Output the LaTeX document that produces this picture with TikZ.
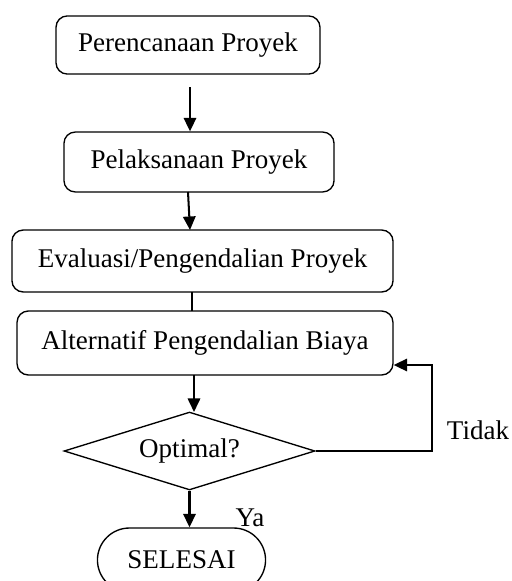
\documentclass[tikz,border=0pt]{standalone}
\usepackage{fontspec}
\setmainfont{Liberation Serif}
\usepackage{tikz}
\usetikzlibrary{shapes.geometric,shapes.misc,arrows.meta}

\begin{document}
\begin{tikzpicture}[x=0.444pt, y=-0.444pt,
	kotak/.style={draw, rounded corners=5pt, line width=0.6pt, font=\fontsize{12}{14}\selectfont},
	panah/.style={-{Triangle[length=6pt,width=5.5pt]}, line width=0.9pt},
	teks/.style={font=\fontsize{12}{14}\selectfont}]
	\useasboundingbox (0,0) rectangle (511,581);

	\node[kotak, minimum width=117.2pt, minimum height=25.8pt] (rencana) at (188,45) {Perencanaan Proyek};
	\node[kotak, minimum width=119.9pt, minimum height=26.6pt] (laksana) at (199,162) {Pelaksanaan Proyek};
	\node[kotak, minimum width=169.2pt, minimum height=27.5pt] (evaluasi) at (202.5,261) {Evaluasi/Pengendalian Proyek};
	\node[kotak, minimum width=166.9pt, minimum height=28.4pt] (alternatif) at (205,343) {Alternatif Pengendalian Biaya};
	\node[draw, diamond, shape aspect=3.2, inner sep=0pt, minimum width=111.4pt, minimum height=34.6pt, line width=0.6pt, teks] (optimal) at (189.5,451) {Optimal?};
	\node[draw, rounded rectangle, minimum width=81.3pt, minimum height=28.4pt, line width=0.6pt, teks] (selesai) at (181.5,560) {SELESAI};

	\coordinate (awal) at (190,87); % di bawah kotak pertama
	\coordinate (balik) at (432,365);

	\draw[panah] (awal) -- (awal |- laksana.north);
	\draw[panah] (188,192) -- (190,230);
	\draw[line width=0.9pt] (192,292) -- (192,311); % tanpa panah
	\draw[panah] (194,375) -- (194,412);
	\draw[panah] (optimal.south) -- (optimal.south |- selesai.north);
	\draw[panah] (optimal.east) -| (balik) -- (balik -| alternatif.east); % kembali

	\node[teks] (tidak) at (478,430) {Tidak};
	\node[teks] (ya) at (250,518) {Ya};
\end{tikzpicture}
\end{document}
